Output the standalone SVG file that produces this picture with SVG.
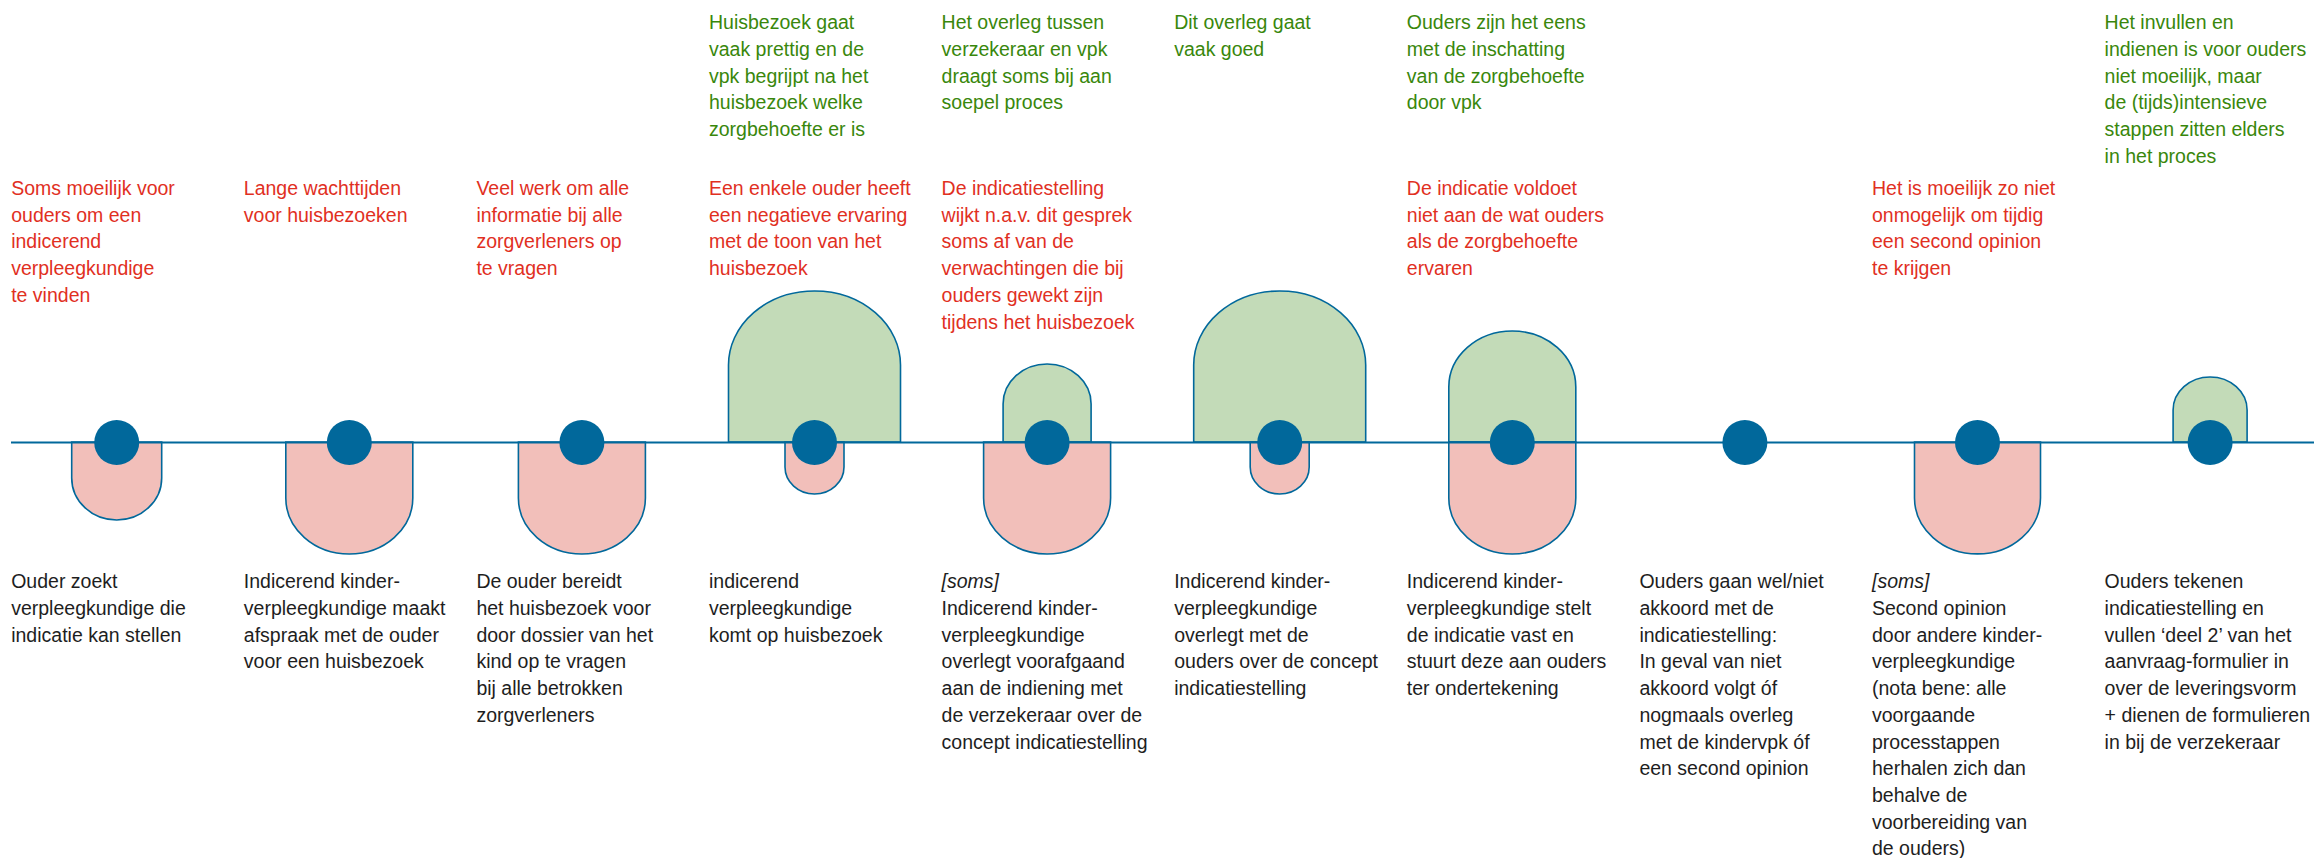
<svg xmlns="http://www.w3.org/2000/svg" width="2316" height="858" viewBox="0 0 2316 858">
<style>
text{font-family:"Liberation Sans",Arial,sans-serif;font-size:19.5px}
.g{fill:#39870C}
.r{fill:#E1301F}
.k{fill:#1E1E1E}
.it{font-style:italic}
.pink{fill:#F2BFBA;stroke:#01689B;stroke-width:1.6}
.green{fill:#C3DBB8;stroke:#01689B;stroke-width:1.6}
.dot{fill:#01689B}
.line{stroke:#01689B;stroke-width:2.2;fill:none}
</style>
<rect width="2316" height="858" fill="#FFFFFF"/>

<g id="shapes">
<path class="pink" d="M71.7,442 V478 A45,42 0 0 0 161.7,478 V442 Z"/>
<path class="pink" d="M285.8,442 V498 A63.5,56 0 0 0 412.8,498 V442 Z"/>
<path class="pink" d="M518.4,442 V498 A63.5,56 0 0 0 645.4,498 V442 Z"/>
<path class="green" d="M728.5,442 V365 A86,74 0 0 1 900.5,365 V442 Z"/>
<path class="pink" d="M785,442 V467 A29.5,27 0 0 0 844,467 V442 Z"/>
<path class="green" d="M1003.1,442 V404 A44,40 0 0 1 1091.1,404 V442 Z"/>
<path class="pink" d="M983.6,442 V498 A63.5,56 0 0 0 1110.6,498 V442 Z"/>
<path class="green" d="M1193.7,442 V365 A86,74 0 0 1 1365.7,365 V442 Z"/>
<path class="pink" d="M1250.2,442 V467 A29.5,27 0 0 0 1309.2,467 V442 Z"/>
<path class="green" d="M1448.8,442 V387 A63.5,56 0 0 1 1575.8,387 V442 Z"/>
<path class="pink" d="M1448.8,442 V498 A63.5,56 0 0 0 1575.8,498 V442 Z"/>
<path class="pink" d="M1914.5,442 V498 A63,56 0 0 0 2040.5,498 V442 Z"/>
<path class="green" d="M2173.1,442 V410 A37,33 0 0 1 2247.1,410 V442 Z"/>
</g>

<g id="connectors">
<line class="line" x1="11" y1="442.5" x2="2314" y2="442.5"/>
</g>

<g id="node1">
<circle class="dot" cx="116.7" cy="442.5" r="22.5"/>
<text class="r"><tspan x="11.2" y="195">Soms moeilijk voor</tspan><tspan x="11.2" dy="26.7">ouders om een</tspan><tspan x="11.2" dy="26.7">indicerend</tspan><tspan x="11.2" dy="26.7">verpleegkundige</tspan><tspan x="11.2" dy="26.7">te vinden</tspan></text>
<text class="k"><tspan x="11.2" y="588.3">Ouder zoekt</tspan><tspan x="11.2" dy="26.7">verpleegkundige die</tspan><tspan x="11.2" dy="26.7">indicatie kan stellen</tspan></text>
</g>

<g id="node2">
<circle class="dot" cx="349.3" cy="442.5" r="22.5"/>
<text class="r"><tspan x="243.8" y="195">Lange wachttijden</tspan><tspan x="243.8" dy="26.7">voor huisbezoeken</tspan></text>
<text class="k"><tspan x="243.8" y="588.3">Indicerend kinder-</tspan><tspan x="243.8" dy="26.7">verpleegkundige maakt</tspan><tspan x="243.8" dy="26.7">afspraak met de ouder</tspan><tspan x="243.8" dy="26.7">voor een huisbezoek</tspan></text>
</g>

<g id="node3">
<circle class="dot" cx="581.9" cy="442.5" r="22.5"/>
<text class="r"><tspan x="476.4" y="195">Veel werk om alle</tspan><tspan x="476.4" dy="26.7">informatie bij alle</tspan><tspan x="476.4" dy="26.7">zorgverleners op</tspan><tspan x="476.4" dy="26.7">te vragen</tspan></text>
<text class="k"><tspan x="476.4" y="588.3">De ouder bereidt</tspan><tspan x="476.4" dy="26.7">het huisbezoek voor</tspan><tspan x="476.4" dy="26.7">door dossier van het</tspan><tspan x="476.4" dy="26.7">kind op te vragen</tspan><tspan x="476.4" dy="26.7">bij alle betrokken</tspan><tspan x="476.4" dy="26.7">zorgverleners</tspan></text>
</g>

<g id="node4">
<circle class="dot" cx="814.5" cy="442.5" r="22.5"/>
<text class="g"><tspan x="709" y="29.3">Huisbezoek gaat</tspan><tspan x="709" dy="26.7">vaak prettig en de</tspan><tspan x="709" dy="26.7">vpk begrijpt na het</tspan><tspan x="709" dy="26.7">huisbezoek welke</tspan><tspan x="709" dy="26.7">zorgbehoefte er is</tspan></text>
<text class="r"><tspan x="709" y="195">Een enkele ouder heeft</tspan><tspan x="709" dy="26.7">een negatieve ervaring</tspan><tspan x="709" dy="26.7">met de toon van het</tspan><tspan x="709" dy="26.7">huisbezoek</tspan></text>
<text class="k"><tspan x="709" y="588.3">indicerend</tspan><tspan x="709" dy="26.7">verpleegkundige</tspan><tspan x="709" dy="26.7">komt op huisbezoek</tspan></text>
</g>

<g id="node5">
<circle class="dot" cx="1047.1" cy="442.5" r="22.5"/>
<text class="g"><tspan x="941.6" y="29.3">Het overleg tussen</tspan><tspan x="941.6" dy="26.7">verzekeraar en vpk</tspan><tspan x="941.6" dy="26.7">draagt soms bij aan</tspan><tspan x="941.6" dy="26.7">soepel proces</tspan></text>
<text class="r"><tspan x="941.6" y="195">De indicatiestelling</tspan><tspan x="941.6" dy="26.7">wijkt n.a.v. dit gesprek</tspan><tspan x="941.6" dy="26.7">soms af van de</tspan><tspan x="941.6" dy="26.7">verwachtingen die bij</tspan><tspan x="941.6" dy="26.7">ouders gewekt zijn</tspan><tspan x="941.6" dy="26.7">tijdens het huisbezoek</tspan></text>
<text class="k"><tspan x="941.6" y="588.3" class="it">[soms]</tspan><tspan x="941.6" dy="26.7">Indicerend kinder-</tspan><tspan x="941.6" dy="26.7">verpleegkundige</tspan><tspan x="941.6" dy="26.7">overlegt voorafgaand</tspan><tspan x="941.6" dy="26.7">aan de indiening met</tspan><tspan x="941.6" dy="26.7">de verzekeraar over de</tspan><tspan x="941.6" dy="26.7">concept indicatiestelling</tspan></text>
</g>

<g id="node6">
<circle class="dot" cx="1279.7" cy="442.5" r="22.5"/>
<text class="g"><tspan x="1174.2" y="29.3">Dit overleg gaat</tspan><tspan x="1174.2" dy="26.7">vaak goed</tspan></text>
<text class="k"><tspan x="1174.2" y="588.3">Indicerend kinder-</tspan><tspan x="1174.2" dy="26.7">verpleegkundige</tspan><tspan x="1174.2" dy="26.7">overlegt met de</tspan><tspan x="1174.2" dy="26.7">ouders over de concept</tspan><tspan x="1174.2" dy="26.7">indicatiestelling</tspan></text>
</g>

<g id="node7">
<circle class="dot" cx="1512.3" cy="442.5" r="22.5"/>
<text class="g"><tspan x="1406.8" y="29.3">Ouders zijn het eens</tspan><tspan x="1406.8" dy="26.7">met de inschatting</tspan><tspan x="1406.8" dy="26.7">van de zorgbehoefte</tspan><tspan x="1406.8" dy="26.7">door vpk</tspan></text>
<text class="r"><tspan x="1406.8" y="195">De indicatie voldoet</tspan><tspan x="1406.8" dy="26.7">niet aan de wat ouders</tspan><tspan x="1406.8" dy="26.7">als de zorgbehoefte</tspan><tspan x="1406.8" dy="26.7">ervaren</tspan></text>
<text class="k"><tspan x="1406.8" y="588.3">Indicerend kinder-</tspan><tspan x="1406.8" dy="26.7">verpleegkundige stelt</tspan><tspan x="1406.8" dy="26.7">de indicatie vast en</tspan><tspan x="1406.8" dy="26.7">stuurt deze aan ouders</tspan><tspan x="1406.8" dy="26.7">ter ondertekening</tspan></text>
</g>

<g id="node8">
<circle class="dot" cx="1744.9" cy="442.5" r="22.5"/>
<text class="k"><tspan x="1639.4" y="588.3">Ouders gaan wel/niet</tspan><tspan x="1639.4" dy="26.7">akkoord met de</tspan><tspan x="1639.4" dy="26.7">indicatiestelling:</tspan><tspan x="1639.4" dy="26.7">In geval van niet</tspan><tspan x="1639.4" dy="26.7">akkoord volgt óf</tspan><tspan x="1639.4" dy="26.7">nogmaals overleg</tspan><tspan x="1639.4" dy="26.7">met de kindervpk óf</tspan><tspan x="1639.4" dy="26.7">een second opinion</tspan></text>
</g>

<g id="node9">
<circle class="dot" cx="1977.5" cy="442.5" r="22.5"/>
<text class="r"><tspan x="1872" y="195">Het is moeilijk zo niet</tspan><tspan x="1872" dy="26.7">onmogelijk om tijdig</tspan><tspan x="1872" dy="26.7">een second opinion</tspan><tspan x="1872" dy="26.7">te krijgen</tspan></text>
<text class="k"><tspan x="1872" y="588.3" class="it">[soms]</tspan><tspan x="1872" dy="26.7">Second opinion</tspan><tspan x="1872" dy="26.7">door andere kinder-</tspan><tspan x="1872" dy="26.7">verpleegkundige</tspan><tspan x="1872" dy="26.7">(nota bene: alle</tspan><tspan x="1872" dy="26.7">voorgaande</tspan><tspan x="1872" dy="26.7">processtappen</tspan><tspan x="1872" dy="26.7">herhalen zich dan</tspan><tspan x="1872" dy="26.7">behalve de</tspan><tspan x="1872" dy="26.7">voorbereiding van</tspan><tspan x="1872" dy="26.7">de ouders)</tspan></text>
</g>

<g id="node10">
<circle class="dot" cx="2210.1" cy="442.5" r="22.5"/>
<text class="g"><tspan x="2104.6" y="29.3">Het invullen en</tspan><tspan x="2104.6" dy="26.7">indienen is voor ouders</tspan><tspan x="2104.6" dy="26.7">niet moeilijk, maar</tspan><tspan x="2104.6" dy="26.7">de (tijds)intensieve</tspan><tspan x="2104.6" dy="26.7">stappen zitten elders</tspan><tspan x="2104.6" dy="26.7">in het proces</tspan></text>
<text class="k"><tspan x="2104.6" y="588.3">Ouders tekenen</tspan><tspan x="2104.6" dy="26.7">indicatiestelling en</tspan><tspan x="2104.6" dy="26.7">vullen ‘deel 2’ van het</tspan><tspan x="2104.6" dy="26.7">aanvraag-formulier in</tspan><tspan x="2104.6" dy="26.7">over de leveringsvorm</tspan><tspan x="2104.6" dy="26.7">+ dienen de formulieren</tspan><tspan x="2104.6" dy="26.7">in bij de verzekeraar</tspan></text>
</g>
</svg>
